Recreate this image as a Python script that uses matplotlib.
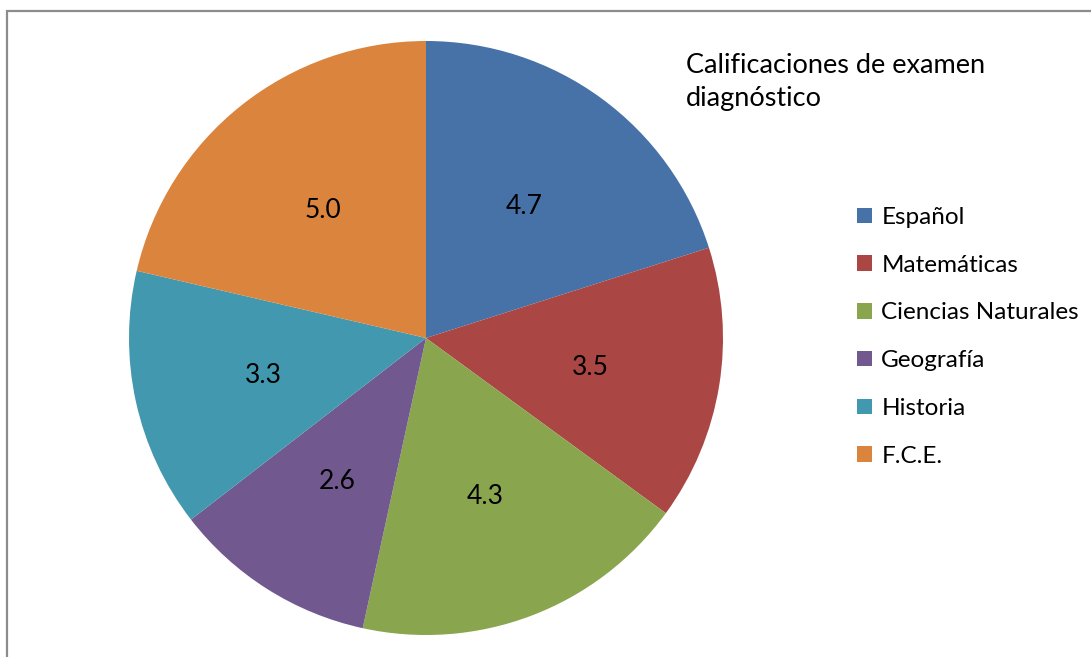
import matplotlib.pyplot as plt
from matplotlib.patches import Rectangle, Patch

materias = ["Español", "Matemáticas", "Ciencias Naturales", "Geografía", "Historia", "F.C.E."]
calificaciones = [4.7, 3.5, 4.3, 2.6, 3.3, 5.0]
colores = ["#4672A8", "#AA4644", "#89A54E", "#71588F", "#4298AF", "#DB843D"]

plt.rcParams['font.family'] = ['Lato', 'DejaVu Sans']

W, H = 1091, 657
fig = plt.figure(figsize=(W / 100, H / 100), dpi=100)

# marco gris
fig.patches.append(Rectangle((7 / W, -0.1), 1.2, 1 - 11 / H + 0.1, transform=fig.transFigure,
                             fill=False, edgecolor="#8c8c8c", linewidth=1.6))

cx, cy, r = 426, 338, 297
ax = fig.add_axes([(cx - r) / W, (H - cy - r) / H, 2 * r / W, 2 * r / H])
wedges, texts = ax.pie(calificaciones, colors=colores, startangle=90, counterclock=False,
                       labels=[f"{v:.1f}" for v in calificaciones], labeldistance=0.56,
                       textprops=dict(fontsize=19, ha="center", va="center_baseline"),
                       wedgeprops=dict(linewidth=0))
ax.set_xlim(-1, 1)
ax.set_ylim(-1, 1)
ax.set_aspect("equal")

fig.text(686 / W, 1 - 53 / H, "Calificaciones de examen\ndiagnóstico", fontsize=19.5,
         ha="left", va="top", linespacing=1.4)

handles = [Patch(facecolor=c) for c in colores]
fig.legend(handles, materias, loc="upper left", bbox_to_anchor=(857 / W, 1 - 207 / H),
           frameon=False, fontsize=17.5, handlelength=0.6, handleheight=0.6,
           handletextpad=0.4, labelspacing=1.1, borderpad=0, borderaxespad=0)

fig.savefig("out.png", dpi=100)
